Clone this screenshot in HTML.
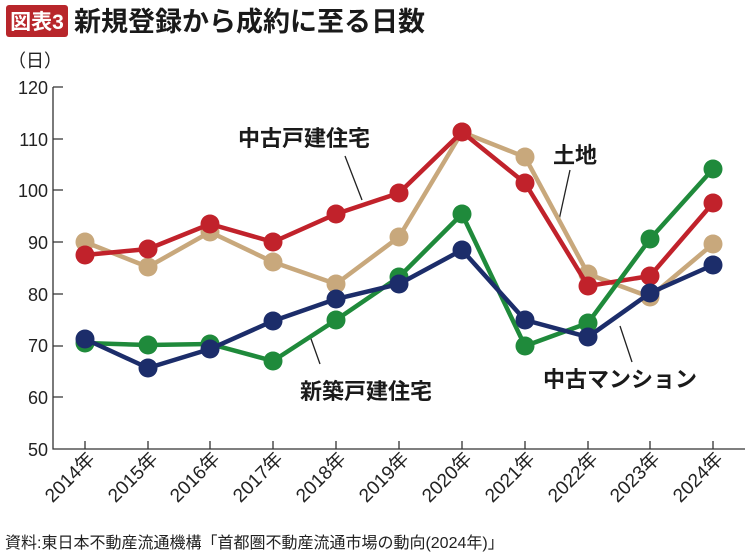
<!DOCTYPE html><html><head><meta charset="utf-8"><style>body{margin:0;background:#fff}svg{display:block}text{font-family:"Liberation Sans","Noto Sans CJK JP",sans-serif}</style></head><body>
<svg width="750" height="556" viewBox="0 0 750 556">
<rect x="6" y="5" width="62" height="32" rx="3" fill="#b8262b"/>
<text x="37" y="29" fill="#fff" font-size="21" font-weight="bold" text-anchor="middle">図表3</text>
<text x="74" y="31" font-size="27" font-weight="bold" fill="#1a1a1a">新規登録から成約に至る日数</text>
<text x="8" y="67" font-size="18" fill="#222">（日）</text>
<g font-size="18" fill="#222" text-anchor="end">
<text x="48" y="94">120</text><text x="48" y="146">110</text><text x="48" y="197">100</text><text x="48" y="249">90</text><text x="48" y="301">80</text><text x="48" y="352">70</text><text x="48" y="404">60</text><text x="48" y="456">50</text></g>
<g stroke="#333" stroke-width="1.3" fill="none">
<path d="M53 87V449H745"/>
<path d="M53 87h10M53 139h10M53 190h10M53 242h10M53 294h10M53 346h10M53 397h10"/>
<path d="M85 449v-8M148 449v-8M210 449v-8M273 449v-8M336 449v-8M399 449v-8M462 449v-8M525 449v-8M588 449v-8M650 449v-8M713 449v-8"/>
</g>
<g font-size="19" fill="#222" text-anchor="end">
<text transform="translate(96,460) rotate(-45)">2014年</text>
<text transform="translate(159,460) rotate(-45)">2015年</text>
<text transform="translate(221,460) rotate(-45)">2016年</text>
<text transform="translate(284,460) rotate(-45)">2017年</text>
<text transform="translate(347,460) rotate(-45)">2018年</text>
<text transform="translate(410,460) rotate(-45)">2019年</text>
<text transform="translate(473,460) rotate(-45)">2020年</text>
<text transform="translate(536,460) rotate(-45)">2021年</text>
<text transform="translate(599,460) rotate(-45)">2022年</text>
<text transform="translate(661,460) rotate(-45)">2023年</text>
<text transform="translate(724,460) rotate(-45)">2024年</text>
</g>
<text x="5" y="548" font-size="16" fill="#222">資料:東日本不動産流通機構「首都圏不動産流通市場の動向(2024年)」</text>
<g stroke="#222" stroke-width="1.3">
<line x1="345" y1="156" x2="362" y2="200"/><line x1="570" y1="170" x2="559" y2="220"/>
<line x1="320" y1="364" x2="310" y2="336"/><line x1="632" y1="362" x2="620" y2="326"/></g>
<g id="s">
<polyline fill="none" stroke="#c8a87c" stroke-width="4.5" points="85,242 148,267 210,232 273,262 336,284 399,237 462,132 525,157 588,274 650,297 713,244"/>
<g fill="#c8a87c"><circle cx="85" cy="242" r="9.5"/><circle cx="148" cy="267" r="9.5"/><circle cx="210" cy="232" r="9.5"/><circle cx="273" cy="262" r="9.5"/><circle cx="336" cy="284" r="9.5"/><circle cx="399" cy="237" r="9.5"/><circle cx="462" cy="132" r="9.5"/><circle cx="525" cy="157" r="9.5"/><circle cx="588" cy="274" r="9.5"/><circle cx="650" cy="297" r="9.5"/><circle cx="713" cy="244" r="9.5"/></g>
<polyline fill="none" stroke="#c1222b" stroke-width="4.5" points="85,255 148,249 210,224 273,242 336,214 399,193 462,132 525,183 588,286 650,276 713,203"/>
<g fill="#c1222b"><circle cx="85" cy="255" r="9.5"/><circle cx="148" cy="249" r="9.5"/><circle cx="210" cy="224" r="9.5"/><circle cx="273" cy="242" r="9.5"/><circle cx="336" cy="214" r="9.5"/><circle cx="399" cy="193" r="9.5"/><circle cx="462" cy="132" r="9.5"/><circle cx="525" cy="183" r="9.5"/><circle cx="588" cy="286" r="9.5"/><circle cx="650" cy="276" r="9.5"/><circle cx="713" cy="203" r="9.5"/></g>
<polyline fill="none" stroke="#1f8a3b" stroke-width="4.5" points="85,343 148,345 210,344 273,361 336,320 399,277 462,214 525,346 588,323 650,239 713,169"/>
<g fill="#1f8a3b"><circle cx="85" cy="343" r="9.5"/><circle cx="148" cy="345" r="9.5"/><circle cx="210" cy="344" r="9.5"/><circle cx="273" cy="361" r="9.5"/><circle cx="336" cy="320" r="9.5"/><circle cx="399" cy="277" r="9.5"/><circle cx="462" cy="214" r="9.5"/><circle cx="525" cy="346" r="9.5"/><circle cx="588" cy="323" r="9.5"/><circle cx="650" cy="239" r="9.5"/><circle cx="713" cy="169" r="9.5"/></g>
<polyline fill="none" stroke="#1c2d6a" stroke-width="4.5" points="85,339 148,368 210,349 273,321 336,299 399,284 462,250 525,320 588,337 650,293 713,265"/>
<g fill="#1c2d6a"><circle cx="85" cy="339" r="9.5"/><circle cx="148" cy="368" r="9.5"/><circle cx="210" cy="349" r="9.5"/><circle cx="273" cy="321" r="9.5"/><circle cx="336" cy="299" r="9.5"/><circle cx="399" cy="284" r="9.5"/><circle cx="462" cy="250" r="9.5"/><circle cx="525" cy="320" r="9.5"/><circle cx="588" cy="337" r="9.5"/><circle cx="650" cy="293" r="9.5"/><circle cx="713" cy="265" r="9.5"/></g>
</g>
<g font-size="22" font-weight="bold" fill="#1a1a1a">
<text x="238" y="146">中古戸建住宅</text><text x="553" y="163">土地</text>
<text x="300" y="399">新築戸建住宅</text><text x="543" y="387">中古マンション</text></g>
</svg></body></html>
